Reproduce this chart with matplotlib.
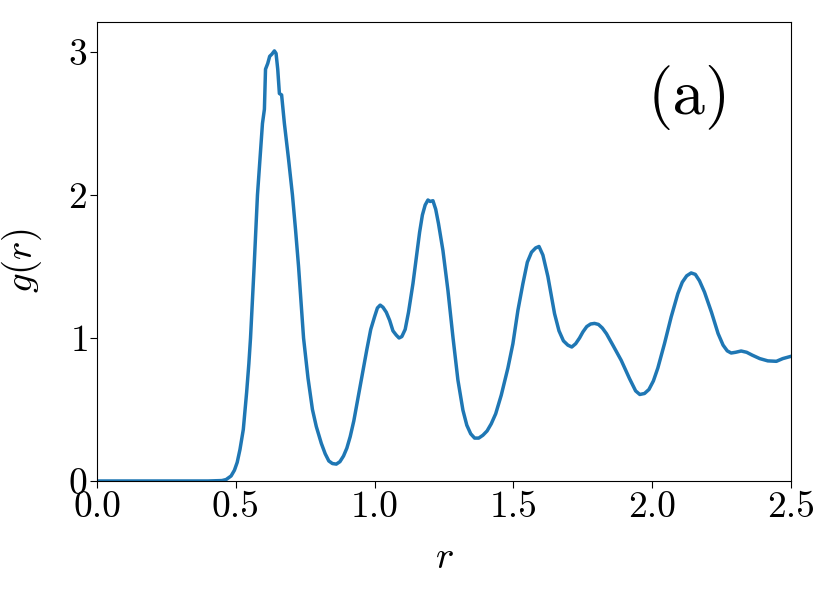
import numpy as np
import matplotlib
matplotlib.use("Agg")
import matplotlib.pyplot as plt

# radial distribution function g(r)
r = [0.00, 0.10, 0.20, 0.30, 0.40, 0.45, 0.465, 0.483, 0.495, 0.505, 0.515,
     0.527, 0.539, 0.547, 0.553, 0.566, 0.578, 0.587, 0.596, 0.603, 0.607, 0.615,
     0.622, 0.630, 0.639, 0.645, 0.651, 0.657, 0.665, 0.675, 0.690, 0.704,
     0.715, 0.726, 0.735, 0.744, 0.760, 0.776, 0.790, 0.808, 0.822, 0.835,
     0.848, 0.862, 0.875, 0.888, 0.900, 0.912, 0.925, 0.940, 0.957, 0.972,
     0.986, 1.000, 1.010, 1.020, 1.030, 1.042, 1.054, 1.066, 1.078, 1.088,
     1.098, 1.110, 1.122, 1.138, 1.150, 1.162, 1.172, 1.182, 1.192, 1.200,
     1.210, 1.220, 1.230, 1.246, 1.264, 1.282, 1.300, 1.318, 1.332, 1.346,
     1.360, 1.375, 1.390, 1.405, 1.420, 1.436, 1.456, 1.480, 1.498, 1.516,
     1.534, 1.550, 1.565, 1.580, 1.592, 1.606, 1.624, 1.648, 1.664, 1.680,
     1.696, 1.710, 1.724, 1.738, 1.750, 1.764, 1.778, 1.792, 1.806, 1.820,
     1.835, 1.858, 1.888, 1.918, 1.940, 1.955, 1.972, 1.988, 2.004, 2.020,
     2.044, 2.068, 2.092, 2.108, 2.124, 2.140, 2.155, 2.170, 2.188, 2.213,
     2.237, 2.255, 2.270, 2.284, 2.300, 2.320, 2.340, 2.360, 2.387, 2.416,
     2.447, 2.470, 2.500]
g = [0.000, 0.000, 0.000, 0.000, 0.000, 0.003, 0.010, 0.035, 0.075, 0.130, 0.220,
     0.360, 0.620, 0.820, 1.000, 1.500, 2.000, 2.250, 2.500, 2.600, 2.880, 2.920,
     2.970, 2.985, 3.008, 2.990, 2.880, 2.710, 2.700, 2.500, 2.250, 2.000,
     1.760, 1.500, 1.250, 1.000, 0.720, 0.500, 0.380, 0.263, 0.190, 0.140,
     0.122, 0.118, 0.135, 0.175, 0.230, 0.310, 0.420, 0.580, 0.760, 0.920,
     1.060, 1.150, 1.210, 1.230, 1.215, 1.180, 1.124, 1.050, 1.020, 1.000,
     1.010, 1.060, 1.180, 1.380, 1.560, 1.740, 1.860, 1.930, 1.965, 1.955,
     1.960, 1.900, 1.800, 1.612, 1.333, 1.007, 0.705, 0.495, 0.390, 0.330,
     0.300, 0.300, 0.320, 0.350, 0.400, 0.470, 0.600, 0.790, 0.960, 1.193,
     1.380, 1.530, 1.600, 1.630, 1.640, 1.580, 1.430, 1.170, 1.050, 0.980,
     0.950, 0.937, 0.960, 1.000, 1.042, 1.080, 1.098, 1.102, 1.095, 1.070,
     1.030, 0.950, 0.844, 0.716, 0.630, 0.605, 0.612, 0.640, 0.700, 0.790,
     0.961, 1.147, 1.310, 1.390, 1.435, 1.455, 1.445, 1.400, 1.321, 1.181,
     1.031, 0.950, 0.910, 0.895, 0.900, 0.909, 0.900, 0.880, 0.856, 0.840,
     0.837, 0.856, 0.872]

plt.rcParams['font.family'] = 'serif'
plt.rcParams['font.serif'] = ['cmr10']
plt.rcParams['mathtext.fontset'] = 'cm'
plt.rcParams['axes.formatter.use_mathtext'] = True

fig = plt.figure(figsize=(8.31, 5.93), dpi=100)
ax = fig.add_axes([0.1167, 0.1889, 0.8353, 0.774])

ax.plot(r, g, color='#1f77b4', lw=2.5)
ax.set_xlim(0, 2.5)
ax.set_ylim(0, 3.21)
ax.set_xticks([0.0, 0.5, 1.0, 1.5, 2.0, 2.5])
ax.set_xticklabels(['0.0', '0.5', '1.0', '1.5', '2.0', '2.5'])
ax.set_yticks([0, 1, 2, 3])
ax.tick_params(labelsize=27, length=5, pad=2)

ax.set_xlabel(r'$r$', fontsize=28, labelpad=12)
ax.set_ylabel(r'$g(r)$', fontsize=28, labelpad=6)
ax.yaxis.set_label_coords(-0.076, 0.48)
ax.text(0.854, 0.835, '(a)', transform=ax.transAxes, fontsize=47,
        ha='center', va='center')

fig.savefig('out.png', dpi=100)
